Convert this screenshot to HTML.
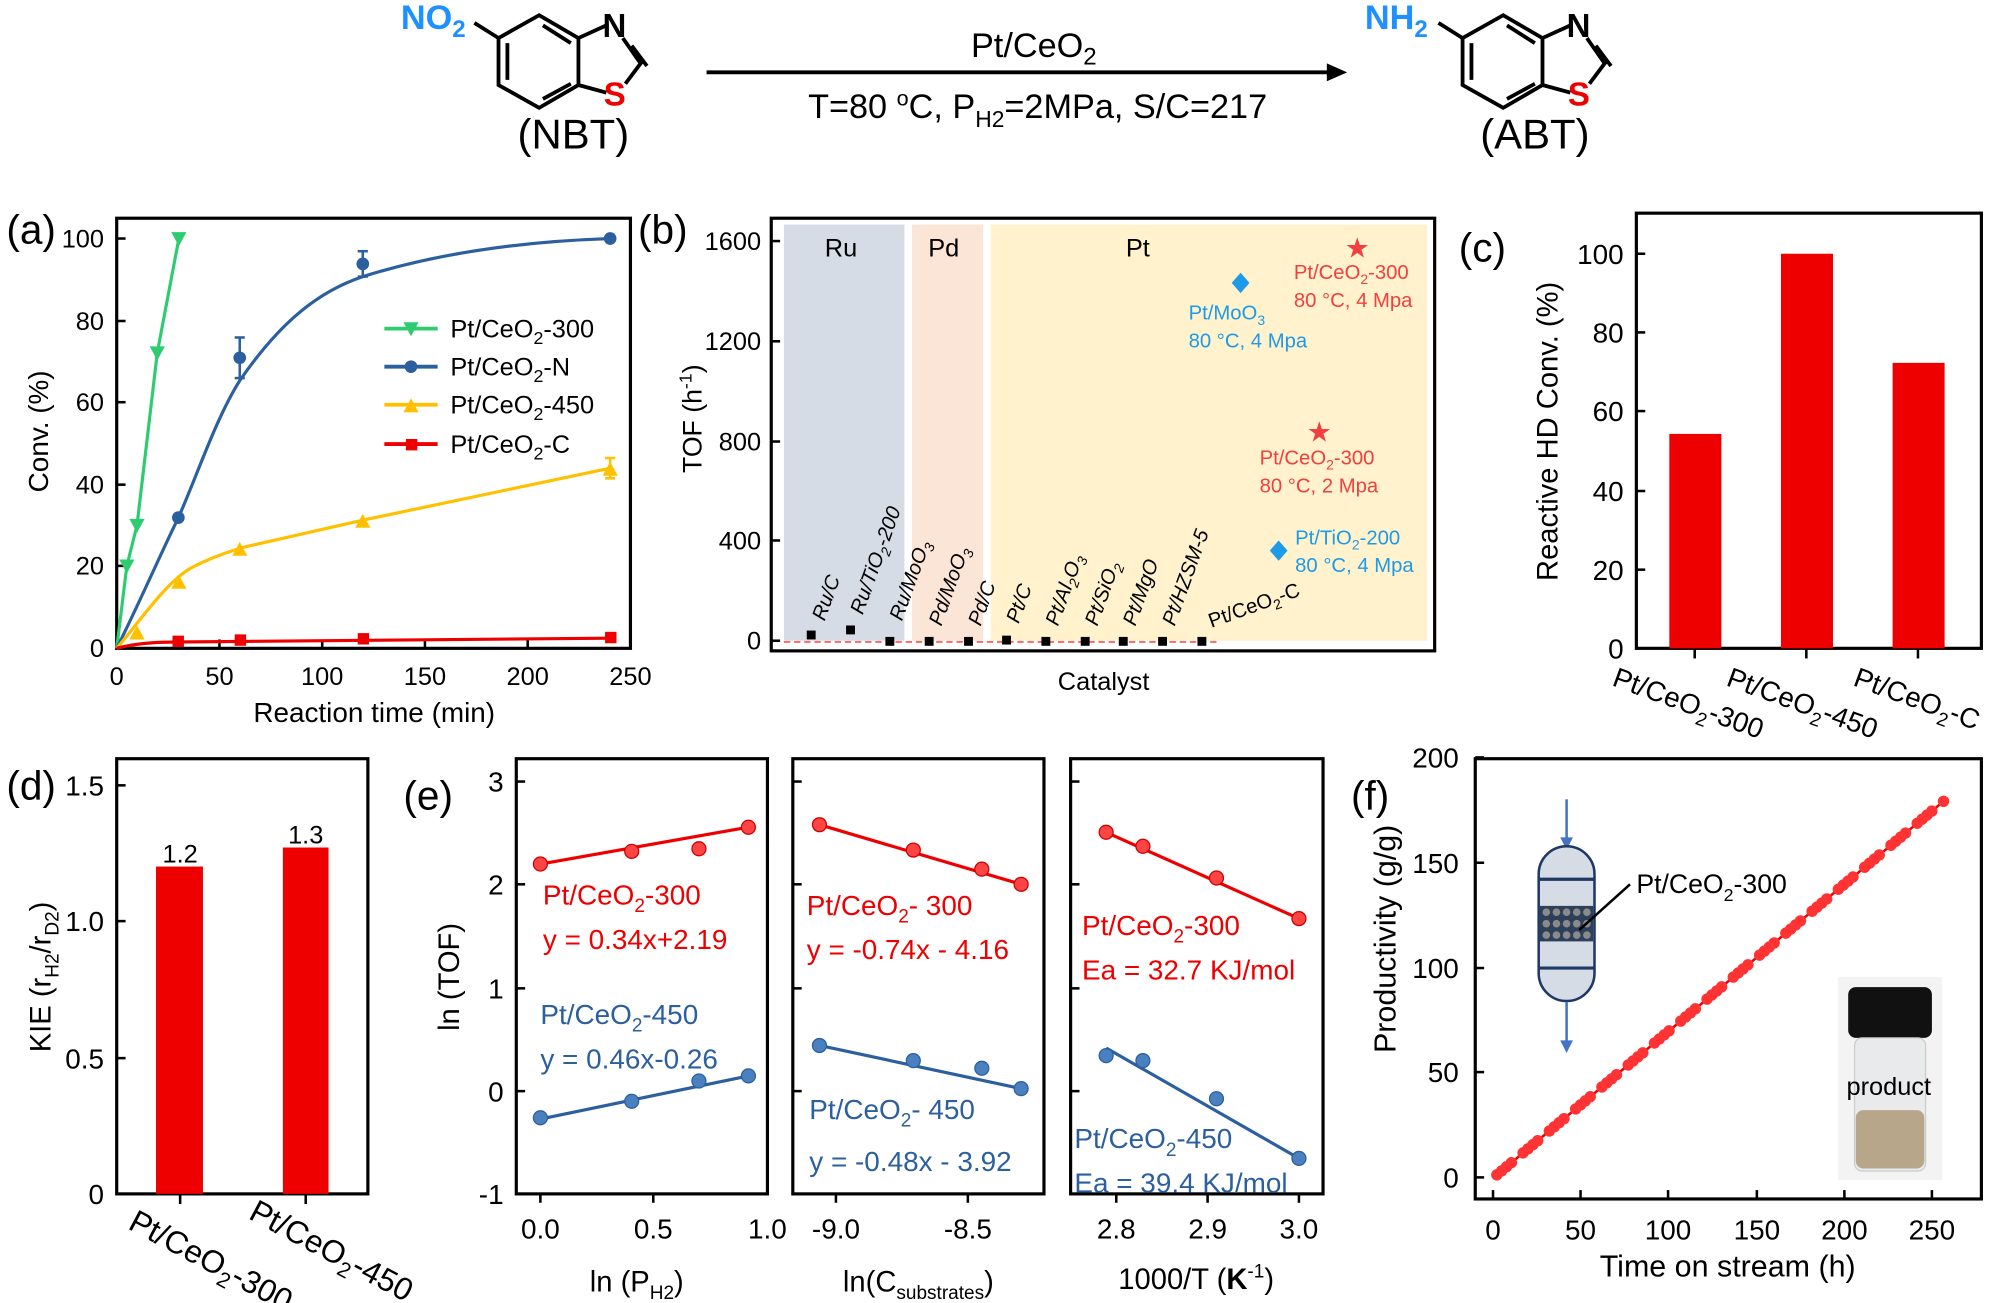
<!DOCTYPE html>
<html><head><meta charset="utf-8"><style>html,body{margin:0;padding:0;background:#fff}svg{display:block}text{font-family:"Liberation Sans",sans-serif}</style></head><body>
<svg width="1989" height="1303" viewBox="0 0 1568 1027" preserveAspectRatio="none" xmlns="http://www.w3.org/2000/svg">
<defs>
<g id="bt"><path d="M425,12 L393,30 L393,67 L425,85 L456,67 L456,30 Z M400,34 L400,63 M428,78 L450,66 M450,34 L428,20 M456,30 L478,20 M491,30 L505,50 L493,66 M498,36 L510,52 M456,67 L478,73" fill="none" stroke="#000" stroke-width="3"/></g>
</defs>
<use href="#bt"/>
<line x1="393" y1="30" x2="374" y2="18" stroke="#000" stroke-width="3"/>
<text x="316" y="23" font-size="27" font-weight="bold" fill="#1e90ff">NO<tspan font-size="19" dy="6">2</tspan></text>
<text x="475" y="29" font-size="26" font-weight="bold">N</text>
<text x="476" y="83" font-size="26" font-weight="bold" fill="#e00">S</text>
<text x="452" y="117" font-size="33" text-anchor="middle">(NBT)</text>
<g transform="translate(760,0)"><use href="#bt"/><line x1="393" y1="30" x2="374" y2="18" stroke="#000" stroke-width="3"/>
<text x="475" y="29" font-size="26" font-weight="bold">N</text>
<text x="476" y="83" font-size="26" font-weight="bold" fill="#e00">S</text>
<text x="450" y="117" font-size="33" text-anchor="middle">(ABT)</text></g>
<text x="1076" y="23" font-size="27" font-weight="bold" fill="#1e90ff">NH<tspan font-size="19" dy="6">2</tspan></text>
<line x1="557" y1="57" x2="1048" y2="57" stroke="#000" stroke-width="3"/>
<path d="M1046,50 L1062,57 L1046,64 Z"/>
<text x="815" y="45" font-size="27" text-anchor="middle">Pt/CeO<tspan font-size="19" dy="6">2</tspan></text>
<text x="818" y="93" font-size="27" text-anchor="middle">T=80 <tspan font-size="17" dy="-10">o</tspan><tspan dy="10">C, P</tspan><tspan font-size="18" dy="7">H2</tspan><tspan dy="-7">=2MPa, S/C=217</tspan></text>

<!-- panel a -->
<g font-size="20">
<text x="5" y="192" font-size="32">(a)</text>
<rect x="92" y="172" width="405" height="339" fill="none" stroke="#000" stroke-width="2.5"/>
<g stroke="#000" stroke-width="2">
<line x1="92" y1="511" x2="99" y2="511"/><line x1="92" y1="446" x2="99" y2="446"/><line x1="92" y1="382" x2="99" y2="382"/><line x1="92" y1="317" x2="99" y2="317"/><line x1="92" y1="253" x2="99" y2="253"/><line x1="92" y1="188" x2="99" y2="188"/>
<line x1="173" y1="511" x2="173" y2="504"/><line x1="254" y1="511" x2="254" y2="504"/><line x1="335" y1="511" x2="335" y2="504"/><line x1="416" y1="511" x2="416" y2="504"/>
</g>
<g text-anchor="end"><text x="82" y="518">0</text><text x="82" y="453">20</text><text x="82" y="389">40</text><text x="82" y="324">60</text><text x="82" y="260">80</text><text x="82" y="195">100</text></g>
<g text-anchor="middle"><text x="92" y="540">0</text><text x="173" y="540">50</text><text x="254" y="540">100</text><text x="335" y="540">150</text><text x="416" y="540">200</text><text x="497" y="540">250</text></g>
<text x="295" y="569" text-anchor="middle" font-size="22">Reaction time (min)</text>
<text transform="translate(38,340) rotate(-90)" text-anchor="middle" font-size="22">Conv. (%)</text>
<polyline points="92,511 100,446 108,414 124,278 141,188" fill="none" stroke="#2ecc71" stroke-width="2.5"/>
<g fill="#2ecc71"><path d="M94,441 L106,441 L100,452Z M102,409 L114,409 L108,420Z M118,273 L130,273 L124,284Z M135,183 L147,183 L141,194Z"/></g>
<path d="M92,511 C110,475 125,440 140.6,408 C155,376 170,330 189,300 C220,255 250,230 286,218 C350,198 420,190 481,188" fill="none" stroke="#2b5f9e" stroke-width="2.5"/>
<g fill="#2b5f9e"><circle cx="140.6" cy="408" r="5"/><circle cx="189" cy="282" r="5"/><circle cx="286" cy="208" r="5"/><circle cx="481" cy="188" r="5"/></g>
<g stroke="#2b5f9e" stroke-width="2"><line x1="189" y1="266" x2="189" y2="298"/><line x1="185" y1="266" x2="193" y2="266"/><line x1="185" y1="298" x2="193" y2="298"/><line x1="286" y1="198" x2="286" y2="218"/><line x1="282" y1="198" x2="290" y2="198"/><line x1="282" y1="218" x2="290" y2="218"/></g>
<path d="M92,511 C110,490 130,460 150,448 C165,440 175,437 189,432 L286,410 L481,369" fill="none" stroke="#ffc000" stroke-width="2.5"/>
<g fill="#ffc000"><path d="M102,504 L114,504 L108,493Z M135,464 L147,464 L141,453Z M183,438 L195,438 L189,427Z M280,416 L292,416 L286,405Z M475,375 L487,375 L481,364Z"/></g>
<g stroke="#ffc000" stroke-width="2"><line x1="481" y1="361" x2="481" y2="377"/><line x1="477" y1="361" x2="485" y2="361"/><line x1="477" y1="377" x2="485" y2="377"/></g>
<path d="M92,511 Q110,506 140,506 L481,503" fill="none" stroke="#e00" stroke-width="2.5"/>
<g fill="#e00"><rect x="136" y="501" width="9" height="9"/><rect x="185" y="500" width="9" height="9"/><rect x="282" y="499" width="9" height="9"/><rect x="477" y="498" width="9" height="9"/></g>
<line x1="303" y1="259" x2="345" y2="259" stroke="#2ecc71" stroke-width="3"/><path d="M318,254 L330,254 L324,265Z" fill="#2ecc71"/>
<line x1="303" y1="289" x2="345" y2="289" stroke="#2b5f9e" stroke-width="3"/><circle cx="324" cy="289" r="5" fill="#2b5f9e"/>
<line x1="303" y1="319" x2="345" y2="319" stroke="#ffc000" stroke-width="3"/><path d="M318,325 L330,325 L324,314Z" fill="#ffc000"/>
<line x1="303" y1="350" x2="345" y2="350" stroke="#e00" stroke-width="3"/><rect x="320" y="346" width="9" height="9" fill="#e00"/>
<text x="355" y="266">Pt/CeO<tspan font-size="14" dy="5">2</tspan><tspan dy="-5">-300</tspan></text>
<text x="355" y="296">Pt/CeO<tspan font-size="14" dy="5">2</tspan><tspan dy="-5">-N</tspan></text>
<text x="355" y="326">Pt/CeO<tspan font-size="14" dy="5">2</tspan><tspan dy="-5">-450</tspan></text>
<text x="355" y="357">Pt/CeO<tspan font-size="14" dy="5">2</tspan><tspan dy="-5">-C</tspan></text>
</g>

<!-- panel b -->
<g font-size="20">
<text x="503" y="192" font-size="32">(b)</text>
<rect x="618" y="177" width="95" height="328" fill="#d6dce5"/>
<rect x="719" y="177" width="56" height="328" fill="#fbe5d6"/>
<rect x="781" y="177" width="344" height="328" fill="#fff2cc"/>
<rect x="608" y="172" width="523" height="341" fill="none" stroke="#000" stroke-width="2.5"/>
<g stroke="#000" stroke-width="2"><line x1="608" y1="190" x2="615" y2="190"/><line x1="608" y1="269" x2="615" y2="269"/><line x1="608" y1="348" x2="615" y2="348"/><line x1="608" y1="426" x2="615" y2="426"/><line x1="608" y1="505" x2="615" y2="505"/></g>
<g text-anchor="end"><text x="600" y="197">1600</text><text x="600" y="276">1200</text><text x="600" y="355">800</text><text x="600" y="433">400</text><text x="600" y="512">0</text></g>
<text x="663" y="202" text-anchor="middle">Ru</text><text x="744" y="202" text-anchor="middle">Pd</text><text x="897" y="202" text-anchor="middle">Pt</text>
<text x="870" y="544" text-anchor="middle">Catalyst</text>
<text transform="translate(553,330) rotate(-90)" text-anchor="middle" font-size="21">TOF (h<tspan font-size="14" dy="-8">-1</tspan><tspan dy="8">)</tspan></text>
<line x1="618" y1="506" x2="960" y2="506" stroke="#f66" stroke-width="1.5" stroke-dasharray="5,3"/>
<g fill="#000"><rect x="636" y="497" width="7" height="7"/><rect x="667" y="493" width="7" height="7"/><rect x="698" y="502" width="7" height="7"/><rect x="729" y="502" width="7" height="7"/><rect x="760" y="502" width="7" height="7"/><rect x="790" y="501" width="7" height="7"/><rect x="821" y="502" width="7" height="7"/><rect x="852" y="502" width="7" height="7"/><rect x="882" y="502" width="7" height="7"/><rect x="913" y="502" width="7" height="7"/><rect x="944" y="502" width="7" height="7"/></g>
<g font-size="16" font-style="italic">
<text transform="translate(650,490) rotate(-70)">Ru/C</text>
<text transform="translate(680,485) rotate(-70)">Ru/TiO<tspan font-size="11" dy="4">2</tspan><tspan dy="-4">-200</tspan></text>
<text transform="translate(711,490) rotate(-70)">Ru/MoO<tspan font-size="11" dy="4">3</tspan></text>
<text transform="translate(742,494) rotate(-70)">Pd/MoO<tspan font-size="11" dy="4">3</tspan></text>
<text transform="translate(773,494) rotate(-70)">Pd/C</text>
<text transform="translate(803,492) rotate(-70)">Pt/C</text>
<text transform="translate(834,494) rotate(-70)">Pt/Al<tspan font-size="11" dy="4">2</tspan><tspan dy="-4">O</tspan><tspan font-size="11" dy="4">3</tspan></text>
<text transform="translate(865,494) rotate(-70)">Pt/SiO<tspan font-size="11" dy="4">2</tspan></text>
<text transform="translate(895,494) rotate(-70)">Pt/MgO</text>
<text transform="translate(926,494) rotate(-70)">Pt/HZSM-5</text>
<text transform="translate(955,495) rotate(-20)" font-style="normal">Pt/CeO<tspan font-size="11" dy="4">2</tspan><tspan dy="-4">-C</tspan></text>
</g>
<g font-size="16">
<path d="M978,215 L985,223 L978,231 L971,223Z" fill="#1e9be8"/>
<text x="937" y="252" fill="#1e9be8">Pt/MoO<tspan font-size="11" dy="4">3</tspan></text><text x="937" y="274" fill="#1e9be8">80 °C, 4 Mpa</text>
<text x="1070" y="203" fill="#f04040" font-size="22" text-anchor="middle">★</text>
<text x="1020" y="220" fill="#f04040">Pt/CeO<tspan font-size="11" dy="4">2</tspan><tspan dy="-4">-300</tspan></text><text x="1020" y="242" fill="#f04040">80 °C, 4 Mpa</text>
<text x="1040" y="348" fill="#f04040" font-size="22" text-anchor="middle">★</text>
<text x="993" y="366" fill="#f04040">Pt/CeO<tspan font-size="11" dy="4">2</tspan><tspan dy="-4">-300</tspan></text><text x="993" y="388" fill="#f04040">80 °C, 2 Mpa</text>
<path d="M1008,426 L1015,434 L1008,442 L1001,434Z" fill="#1e9be8"/>
<text x="1021" y="429" fill="#1e9be8">Pt/TiO<tspan font-size="11" dy="4">2</tspan><tspan dy="-4">-200</tspan></text><text x="1021" y="451" fill="#1e9be8">80 °C, 4 Mpa</text>
</g>
</g>

<!-- panel c -->
<g font-size="20">
<text x="1150" y="206" font-size="32">(c)</text>
<rect x="1290" y="168" width="272" height="343" fill="none" stroke="#000" stroke-width="2.5"/>
<g stroke="#000" stroke-width="2"><line x1="1290" y1="511" x2="1297" y2="511"/><line x1="1290" y1="449" x2="1297" y2="449"/><line x1="1290" y1="387" x2="1297" y2="387"/><line x1="1290" y1="324" x2="1297" y2="324"/><line x1="1290" y1="262" x2="1297" y2="262"/><line x1="1290" y1="200" x2="1297" y2="200"/>
<line x1="1336" y1="511" x2="1336" y2="519"/><line x1="1424" y1="511" x2="1424" y2="519"/><line x1="1512" y1="511" x2="1512" y2="519"/></g>
<g text-anchor="end" font-size="22"><text x="1280" y="519">0</text><text x="1280" y="457">20</text><text x="1280" y="395">40</text><text x="1280" y="332">60</text><text x="1280" y="270">80</text><text x="1280" y="208">100</text></g>
<text transform="translate(1228,340) rotate(-90)" text-anchor="middle" font-size="23">Reactive HD Conv. (%)</text>
<rect x="1316" y="342" width="41" height="169" fill="#e00"/><rect x="1404" y="200" width="41" height="311" fill="#e00"/><rect x="1492" y="286" width="41" height="225" fill="#e00"/>
<g font-size="22"><text transform="translate(1270,540) rotate(20)">Pt/CeO<tspan font-size="15" dy="6">2</tspan><tspan dy="-6">-300</tspan></text>
<text transform="translate(1360,540) rotate(20)">Pt/CeO<tspan font-size="15" dy="6">2</tspan><tspan dy="-6">-450</tspan></text>
<text transform="translate(1460,540) rotate(20)">Pt/CeO<tspan font-size="15" dy="6">2</tspan><tspan dy="-6">-C</tspan></text></g>
</g>

<!-- panel d -->
<g font-size="20">
<text x="5" y="630" font-size="32">(d)</text>
<rect x="92" y="598" width="198" height="343" fill="none" stroke="#000" stroke-width="2.5"/>
<g stroke="#000" stroke-width="2"><line x1="92" y1="619" x2="99" y2="619"/><line x1="92" y1="726" x2="99" y2="726"/><line x1="92" y1="834" x2="99" y2="834"/><line x1="92" y1="941" x2="99" y2="941"/><line x1="142" y1="941" x2="142" y2="949"/><line x1="241" y1="941" x2="241" y2="949"/></g>
<g text-anchor="end" font-size="22"><text x="82" y="627">1.5</text><text x="82" y="734">1.0</text><text x="82" y="842">0.5</text><text x="82" y="949">0</text></g>
<text transform="translate(40,770) rotate(-90)" text-anchor="middle" font-size="23">KIE (r<tspan font-size="15" dy="6">H2</tspan><tspan dy="-6">/r</tspan><tspan font-size="15" dy="6">D2</tspan><tspan dy="-6">)</tspan></text>
<rect x="123" y="683" width="37" height="258" fill="#e00"/><rect x="223" y="668" width="36" height="273" fill="#e00"/>
<text x="142" y="680" text-anchor="middle">1.2</text><text x="241" y="665" text-anchor="middle">1.3</text>
<g font-size="25"><text transform="translate(100,968) rotate(28)">Pt/CeO<tspan font-size="17" dy="6">2</tspan><tspan dy="-6">-300</tspan></text>
<text transform="translate(195,960) rotate(28)">Pt/CeO<tspan font-size="17" dy="6">2</tspan><tspan dy="-6">-450</tspan></text></g>
</g>

<!-- panel e -->
<g font-size="20">
<text x="318" y="638" font-size="32">(e)</text>
<rect x="407" y="598" width="198" height="343" fill="none" stroke="#000" stroke-width="2.5"/>
<rect x="625" y="598" width="198" height="343" fill="none" stroke="#000" stroke-width="2.5"/>
<rect x="844" y="598" width="199" height="343" fill="none" stroke="#000" stroke-width="2.5"/>
<g stroke="#000" stroke-width="2">
<line x1="407" y1="616" x2="414" y2="616"/><line x1="407" y1="697" x2="414" y2="697"/><line x1="407" y1="779" x2="414" y2="779"/><line x1="407" y1="860" x2="414" y2="860"/><line x1="407" y1="941" x2="414" y2="941"/>
<line x1="625" y1="616" x2="632" y2="616"/><line x1="625" y1="697" x2="632" y2="697"/><line x1="625" y1="779" x2="632" y2="779"/><line x1="625" y1="860" x2="632" y2="860"/>
<line x1="844" y1="616" x2="851" y2="616"/><line x1="844" y1="697" x2="851" y2="697"/><line x1="844" y1="779" x2="851" y2="779"/><line x1="844" y1="860" x2="851" y2="860"/>
<line x1="426" y1="941" x2="426" y2="948"/><line x1="515" y1="941" x2="515" y2="948"/><line x1="659" y1="941" x2="659" y2="948"/><line x1="763" y1="941" x2="763" y2="948"/><line x1="880" y1="941" x2="880" y2="948"/><line x1="952" y1="941" x2="952" y2="948"/><line x1="1024" y1="941" x2="1024" y2="948"/>
</g>
<g text-anchor="end" font-size="22"><text x="397" y="624">3</text><text x="397" y="705">2</text><text x="397" y="787">1</text><text x="397" y="868">0</text><text x="397" y="949">-1</text></g>
<g text-anchor="middle" font-size="22"><text x="426" y="976">0.0</text><text x="515" y="976">0.5</text><text x="605" y="976">1.0</text><text x="659" y="976">-9.0</text><text x="763" y="976">-8.5</text><text x="880" y="976">2.8</text><text x="952" y="976">2.9</text><text x="1024" y="976">3.0</text></g>
<text transform="translate(362,770) rotate(-90)" text-anchor="middle" font-size="23">ln (TOF)</text>
<g font-size="23" text-anchor="middle"><text x="502" y="1018">ln (P<tspan font-size="15" dy="6">H2</tspan><tspan dy="-6">)</tspan></text>
<text x="724" y="1018">ln(C<tspan font-size="15" dy="6">substrates</tspan><tspan dy="-6">)</tspan></text>
<text x="943" y="1016">1000/T (<tspan font-weight="bold">K</tspan><tspan font-size="15" dy="-9">-1</tspan><tspan dy="9">)</tspan></text></g>
<line x1="426" y1="681" x2="590" y2="652" stroke="#e00" stroke-width="2.5"/>
<g fill="#f44" stroke="#c00"><circle cx="426" cy="681" r="5.5"/><circle cx="498" cy="671" r="5.5"/><circle cx="551" cy="669" r="5.5"/><circle cx="590" cy="652" r="5.5"/></g>
<line x1="426" y1="882" x2="590" y2="848" stroke="#2b5f9e" stroke-width="2.5"/>
<g fill="#4a7fc0" stroke="#2b5f9e"><circle cx="426" cy="881" r="5.5"/><circle cx="498" cy="868" r="5.5"/><circle cx="551" cy="852" r="5.5"/><circle cx="590" cy="848" r="5.5"/></g>
<line x1="646" y1="650" x2="805" y2="697" stroke="#e00" stroke-width="2.5"/>
<g fill="#f44" stroke="#c00"><circle cx="646" cy="650" r="5.5"/><circle cx="720" cy="670" r="5.5"/><circle cx="774" cy="685" r="5.5"/><circle cx="805" cy="697" r="5.5"/></g>
<line x1="646" y1="824" x2="805" y2="858" stroke="#2b5f9e" stroke-width="2.5"/>
<g fill="#4a7fc0" stroke="#2b5f9e"><circle cx="646" cy="824" r="5.5"/><circle cx="720" cy="836" r="5.5"/><circle cx="774" cy="842" r="5.5"/><circle cx="805" cy="858" r="5.5"/></g>
<line x1="872" y1="656" x2="1024" y2="724" stroke="#e00" stroke-width="2.5"/>
<g fill="#f44" stroke="#c00"><circle cx="872" cy="656" r="5.5"/><circle cx="901" cy="667" r="5.5"/><circle cx="959" cy="692" r="5.5"/><circle cx="1024" cy="724" r="5.5"/></g>
<line x1="872" y1="826" x2="1024" y2="913" stroke="#2b5f9e" stroke-width="2.5"/>
<g fill="#4a7fc0" stroke="#2b5f9e"><circle cx="872" cy="832" r="5.5"/><circle cx="901" cy="836" r="5.5"/><circle cx="959" cy="866" r="5.5"/><circle cx="1024" cy="913" r="5.5"/></g>
<g font-size="22" fill="#e00">
<text x="428" y="713">Pt/CeO<tspan font-size="15" dy="6">2</tspan><tspan dy="-6">-300</tspan></text><text x="428" y="748">y = 0.34x+2.19</text>
<text x="636" y="721">Pt/CeO<tspan font-size="15" dy="6">2</tspan><tspan dy="-6">- 300</tspan></text><text x="636" y="756">y = -0.74x - 4.16</text>
<text x="853" y="737">Pt/CeO<tspan font-size="15" dy="6">2</tspan><tspan dy="-6">-300</tspan></text><text x="853" y="772">Ea = 32.7 KJ/mol</text>
</g>
<g font-size="22" fill="#2b5f9e">
<text x="426" y="807">Pt/CeO<tspan font-size="15" dy="6">2</tspan><tspan dy="-6">-450</tspan></text><text x="426" y="842">y = 0.46x-0.26</text>
<text x="638" y="882">Pt/CeO<tspan font-size="15" dy="6">2</tspan><tspan dy="-6">- 450</tspan></text><text x="638" y="923">y = -0.48x - 3.92</text>
<text x="847" y="905">Pt/CeO<tspan font-size="15" dy="6">2</tspan><tspan dy="-6">-450</tspan></text><text x="847" y="940">Ea = 39.4 KJ/mol</text>
</g>
</g>

<!-- panel f -->
<g font-size="22">
<text x="1065" y="638" font-size="32">(f)</text>
<rect x="1163" y="598" width="399" height="347" fill="none" stroke="#000" stroke-width="2.5"/>
<g stroke="#000" stroke-width="2">
<line x1="1163" y1="597" x2="1170" y2="597"/><line x1="1163" y1="680" x2="1170" y2="680"/><line x1="1163" y1="763" x2="1170" y2="763"/><line x1="1163" y1="845" x2="1170" y2="845"/><line x1="1163" y1="928" x2="1170" y2="928"/>
<line x1="1177" y1="945" x2="1177" y2="938"/><line x1="1246" y1="945" x2="1246" y2="938"/><line x1="1315" y1="945" x2="1315" y2="938"/><line x1="1385" y1="945" x2="1385" y2="938"/><line x1="1454" y1="945" x2="1454" y2="938"/><line x1="1523" y1="945" x2="1523" y2="938"/>
</g>
<g text-anchor="end"><text x="1150" y="605">200</text><text x="1150" y="688">150</text><text x="1150" y="771">100</text><text x="1150" y="853">50</text><text x="1150" y="936">0</text></g>
<g text-anchor="middle"><text x="1177" y="977">0</text><text x="1246" y="977">50</text><text x="1315" y="977">100</text><text x="1385" y="977">150</text><text x="1454" y="977">200</text><text x="1523" y="977">250</text></g>
<text x="1362" y="1006" text-anchor="middle" font-size="24">Time on stream (h)</text>
<text transform="translate(1100,740) rotate(-90)" text-anchor="middle" font-size="24">Productivity (g/g)</text>
<line x1="1180" y1="926" x2="1534" y2="630" stroke="#e00" stroke-width="2"/>
<line x1="1180" y1="926" x2="1534" y2="630" stroke="#f33" stroke-width="9" stroke-linecap="round" stroke-dasharray="0 5 0 5 0 5 0 12"/>
<line x1="1235" y1="630" x2="1235" y2="665" stroke="#4472c4" stroke-width="2"/><path d="M1230,660 L1240,660 L1235,670Z" fill="#4472c4"/>
<line x1="1235" y1="790" x2="1235" y2="825" stroke="#4472c4" stroke-width="2"/><path d="M1230,820 L1240,820 L1235,830Z" fill="#4472c4"/>
<rect x="1213" y="667" width="44" height="122" rx="22" fill="#d6dce5" stroke="#1f3864" stroke-width="2"/>
<line x1="1213" y1="693" x2="1257" y2="693" stroke="#1f3864" stroke-width="2.5"/><line x1="1213" y1="763" x2="1257" y2="763" stroke="#1f3864" stroke-width="2.5"/>
<rect x="1214" y="714" width="42" height="28" fill="#2e3f5a"/>
<g fill="#8a8a8a"><circle cx="1219" cy="719" r="3"/><circle cx="1227" cy="719" r="3"/><circle cx="1235" cy="719" r="3"/><circle cx="1243" cy="719" r="3"/><circle cx="1251" cy="719" r="3"/><circle cx="1219" cy="728" r="3"/><circle cx="1227" cy="728" r="3"/><circle cx="1235" cy="728" r="3"/><circle cx="1243" cy="728" r="3"/><circle cx="1251" cy="728" r="3"/><circle cx="1219" cy="737" r="3"/><circle cx="1227" cy="737" r="3"/><circle cx="1235" cy="737" r="3"/><circle cx="1243" cy="737" r="3"/><circle cx="1251" cy="737" r="3"/></g>
<line x1="1245" y1="733" x2="1285" y2="697" stroke="#000" stroke-width="2"/>
<text x="1290" y="704" font-size="21">Pt/CeO<tspan font-size="14" dy="6">2</tspan><tspan dy="-6">-300</tspan></text>
<rect x="1449" y="770" width="82" height="160" fill="#f3f3f3"/>
<rect x="1457" y="778" width="66" height="40" rx="6" fill="#111"/>
<rect x="1462" y="818" width="56" height="105" rx="6" fill="#e8eaec" stroke="#ccc"/>
<rect x="1463" y="875" width="54" height="46" rx="6" fill="#b8a68a"/>
<text x="1489" y="863" font-size="20" text-anchor="middle">product</text>
</g>
</svg>
</body></html>
